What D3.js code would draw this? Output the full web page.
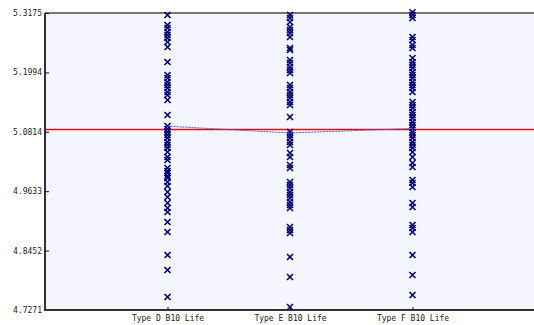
<!DOCTYPE html>
<html lang="en">
<head>
    <meta charset="utf-8">
    <script type="text/javascript" src="https://d3js.org/d3.v7.min.js"></script>
    <style>
        body { margin: 0; background: #ffffff; }
        text { font-family: "DejaVu Sans Mono", monospace; font-size: 8px; fill: #222; }
    </style>
</head>

<body>
    <script type="text/javascript">
        let w = 534;
        let h = 325;

        let categories = ["Type D B10 Life", "Type E B10 Life", "Type F B10 Life"];
        let yTicks = [4.7271, 4.8452, 4.9633, 5.0814, 5.1994, 5.3175];

        let typeD = [5.3135, 5.2936, 5.2877, 5.2797, 5.2738, 5.2678, 5.2598, 5.2499, 5.2201,
            5.1942, 5.1883, 5.1803, 5.1744, 5.1684, 5.1605, 5.1545, 5.1445, 5.1147, 5.0929,
            5.0869, 5.0809, 5.0750, 5.0690, 5.0611, 5.0551, 5.0491, 5.0412, 5.0312, 5.0253,
            5.0094, 5.0034, 4.9994, 4.9935, 4.9895, 4.9816, 4.9736, 4.9617, 4.9517, 4.9398,
            4.9299, 4.9219, 4.9020, 4.8822, 4.8364, 4.8066, 4.7529];
        let typeE = [5.3135, 5.3076, 5.2996, 5.2897, 5.2837, 5.2777, 5.2698, 5.2479, 5.2440,
            5.2241, 5.2181, 5.2102, 5.2042, 5.1982, 5.1744, 5.1684, 5.1605, 5.1545, 5.1485,
            5.1406, 5.1346, 5.1108, 5.0809, 5.0750, 5.0690, 5.0611, 5.0551, 5.0392, 5.0312,
            5.0153, 5.0094, 4.9816, 4.9756, 4.9696, 4.9617, 4.9557, 4.9497, 4.9418, 4.9358,
            4.9299, 4.8921, 4.8861, 4.8802, 4.8325, 4.7927, 4.7331];
        let typeF = [5.3190, 5.3135, 5.3076, 5.2698, 5.2638, 5.2539, 5.2479, 5.2280, 5.2201,
            5.2141, 5.2082, 5.2002, 5.1942, 5.1883, 5.1803, 5.1744, 5.1684, 5.1605, 5.1406,
            5.1346, 5.1287, 5.1207, 5.1147, 5.1088, 5.1008, 5.0949, 5.0889, 5.0809, 5.0750,
            5.0690, 5.0611, 5.0551, 5.0491, 5.0412, 5.0312, 5.0193, 5.0114, 4.9855, 4.9796,
            4.9716, 4.9398, 4.9318, 4.8961, 4.8901, 4.8822, 4.8364, 4.7967, 4.7569];
        let groupMeans = [5.0925, 5.0790, 5.0880];
        let grandMean = 5.0858;

        let series = [typeD, typeE, typeF];

        let padLeft = 45, padTop = 13, padBottom = 310;

        let svg = d3.select("body").append("svg")
            .attr("width", w)
            .attr("height", h);

        let x = d3.scaleLinear().domain([0, 4]).range([padLeft, padLeft + 490]);
        let y = d3.scaleLinear().domain([yTicks[0], yTicks[yTicks.length - 1]]).range([padBottom, padTop]);

        // plot background
        svg.append("rect")
            .attr("x", padLeft).attr("y", padTop)
            .attr("width", w - padLeft).attr("height", padBottom - padTop)
            .attr("fill", "#f5f5ff");

        // top border
        svg.append("line")
            .attr("x1", padLeft).attr("x2", w)
            .attr("y1", padTop).attr("y2", padTop)
            .attr("stroke", "#777").attr("stroke-width", 2);

        // grand mean line
        svg.append("line")
            .attr("x1", padLeft).attr("x2", w)
            .attr("y1", y(grandMean)).attr("y2", y(grandMean))
            .attr("stroke", "#e01010").attr("stroke-width", 1.5);

        // points
        let pts = [];
        series.forEach(function(s, i) {
            s.forEach(function(v) { pts.push({ g: i + 1, v: v }); });
        });
        let r = 3;
        svg.append("g").selectAll("path")
            .data(pts)
            .join("path")
            .attr("d", function(d) {
                let cx = x(d.g), cy = y(d.v);
                return "M" + (cx - r) + "," + (cy - r) + "L" + (cx + r) + "," + (cy + r) +
                    "M" + (cx - r) + "," + (cy + r) + "L" + (cx + r) + "," + (cy - r);
            })
            .attr("stroke", "#00007a")
            .attr("stroke-width", 1.6)
            .attr("fill", "none");

        // means line
        svg.append("path")
            .datum(groupMeans)
            .attr("d", d3.line().x(function(d, i) { return x(i + 1); }).y(function(d) { return y(d); }))
            .attr("fill", "none")
            .attr("stroke", "#4a5cc8")
            .attr("stroke-width", 1)
            .attr("stroke-dasharray", "2,1");

        // y axis (ticks point inward)
        let yAxis = svg.append("g")
            .attr("transform", "translate(" + padLeft + ",0)")
            .call(d3.axisLeft(y).tickValues(yTicks).tickSize(-4).tickSizeOuter(0)
                .tickFormat(d3.format(".4f")));
        yAxis.select(".domain").attr("stroke", "#333").attr("stroke-width", 2)
            .attr("d", "M0," + padTop + "V" + padBottom);
        yAxis.selectAll(".tick line").attr("stroke", "#000080");
        yAxis.selectAll(".tick text").attr("x", -3).attr("fill", "#222")
            .style("font-family", "DejaVu Sans Mono").style("font-size", "8px");

        // x axis
        let xAxis = svg.append("g")
            .attr("transform", "translate(0," + padBottom + ")")
            .call(d3.axisBottom(x).tickValues([1, 2, 3]).tickSize(-3).tickSizeOuter(0)
                .tickFormat(function(d) { return categories[d - 1]; }));
        xAxis.select(".domain").attr("stroke", "#333").attr("stroke-width", 2)
            .attr("d", "M" + (padLeft - 1) + ",0H" + w);
        xAxis.selectAll(".tick text").attr("y", 5).attr("fill", "#222")
            .style("font-family", "DejaVu Sans Mono").style("font-size", "8px");
        xAxis.selectAll(".tick line").attr("stroke", "#000080");
    </script>
</body>
</html>
